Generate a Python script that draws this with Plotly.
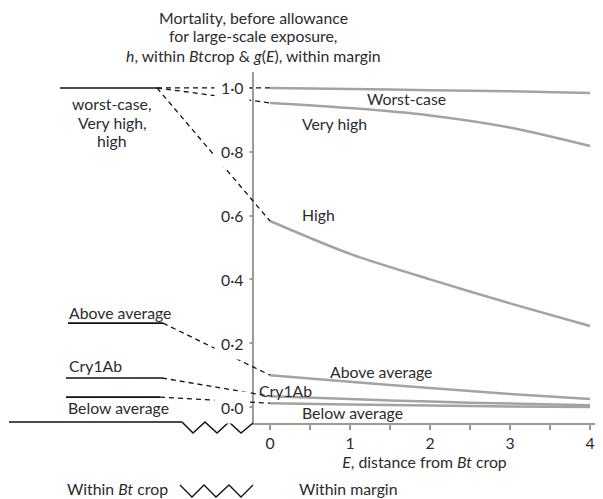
import plotly.graph_objects as go

# ---------------- data ----------------
E = [0, 1, 2, 3, 4]
worst_case = [1.000, 0.997, 0.993, 0.990, 0.984]
very_high = [0.953, 0.937, 0.914, 0.876, 0.818]
high = [0.583, 0.480, 0.400, 0.325, 0.254]
above_average = [0.100, 0.079, 0.060, 0.041, 0.025]
cry1ab = [0.034, 0.025, 0.017, 0.011, 0.006]
below_average = [0.012, 0.008, 0.005, 0.002, 0.000]

# mortality within Bt crop (h)
h_top = 1.0          # worst-case, very high, high
h_above = 0.263
h_cry1ab = 0.091
h_below = 0.031

y_ticks = [0.0, 0.2, 0.4, 0.6, 0.8, 1.0]
y_tick_text = ["0·0", "0·2", "0·4", "0·6", "0·8", "1·0"]
x_ticks = [0, 0.5, 1, 1.5, 2, 2.5, 3, 3.5, 4]
x_tick_text = ["0", "", "1", "", "2", "", "3", "", "4"]

# ---------------- geometry (screen pixels, page has an 8px body margin) ----------------
OFF = 8
W, H = 603 - OFF, 499 - OFF
SCR_TOP, SCR_BOT = 72, 423          # plot area top / bottom on screen
AX_LEFT, AX_RIGHT = 254, 595        # axis extent on screen
T = SCR_TOP - OFF
B = H - (SCR_BOT - OFF)
X_RANGE = [-0.2, 4.0625]
Y_RANGE = [-0.05, 1.05]

def e2px(e):
    return AX_LEFT + (e - X_RANGE[0]) / (X_RANGE[1] - X_RANGE[0]) * (AX_RIGHT - AX_LEFT)

def sx(px):
    return (px - OFF) / W

def sy(py):
    return (SCR_BOT - py) / (SCR_BOT - SCR_TOP)

FONT = "Lato"
FS = 15.8
TXT = "#2b2b2b"
CURVE = "#a3a3a3"
AXC = "#9a9a9a"

def tfont(size=FS):
    return dict(family=FONT, size=size, color=TXT)

fig = go.Figure()

# right panel curves g(E)
for ys in [worst_case, very_high, high, above_average, cry1ab, below_average]:
    fig.add_trace(go.Scatter(x=E, y=ys, mode="lines",
                             line=dict(color=CURVE, width=2.5, shape="spline", smoothing=0.8),
                             showlegend=False, hoverinfo="skip",
                             xaxis="x", yaxis="y"))

# left panel: h lines within Bt crop (x2 = screen-pixel scale)
left_lines = [
    (60, 157, h_top),
    (68, 163, h_above),
    (66, 162, h_cry1ab),
    (66, 160, h_below),
]
for x0, x1, hv in left_lines:
    fig.add_trace(go.Scatter(x=[x0, x1], y=[hv, hv], mode="lines",
                             line=dict(color="#111111", width=1.6),
                             showlegend=False, hoverinfo="skip",
                             xaxis="x2", yaxis="y"))

# dashed connectors h -> g(0)
x0px = e2px(E[0])
connectors = [
    (157, h_top, worst_case[0]),
    (157, h_top, very_high[0]),
    (157, h_top, high[0]),
    (163, h_above, above_average[0]),
    (162, h_cry1ab, cry1ab[0]),
    (160, h_below, below_average[0]),
]
for xs, hv, gv in connectors:
    fig.add_trace(go.Scatter(x=[xs, x0px], y=[hv, gv], mode="lines",
                             line=dict(color="#111111", width=1.3, dash="5px,4px"),
                             showlegend=False, hoverinfo="skip",
                             xaxis="x2", yaxis="y"))

shapes = []
# baseline of left panel + broken-axis zigzag
base_y = 422
shapes.append(dict(type="line", xref="paper", yref="paper",
                   x0=sx(9), x1=sx(182), y0=sy(base_y), y1=sy(base_y),
                   line=dict(color="#111111", width=1.5)))
zz_x = [182, 193, 205, 217, 229, 241, 253]
zz_y = [422, 433, 422, 433, 422, 433, 423]
path = "M " + " L ".join(f"{sx(a):.5f},{sy(b):.5f}" for a, b in zip(zz_x, zz_y))
shapes.append(dict(type="path", xref="paper", yref="paper", path=path,
                   line=dict(color="#111111", width=1.5)))
# legend zigzag
lz_x = [180, 192, 204, 216, 229, 241, 253]
lz_y = [485, 497, 485, 497, 485, 497, 485]
path2 = "M " + " L ".join(f"{sx(a):.5f},{sy(b):.5f}" for a, b in zip(lz_x, lz_y))
shapes.append(dict(type="path", xref="paper", yref="paper", path=path2,
                   line=dict(color="#111111", width=1.3)))

ann = []
# y tick labels with white background (interrupt dashed lines)
for v, t in zip(y_ticks, y_tick_text):
    ann.append(dict(x=sx(AX_LEFT), y=v, xref="paper", yref="y", text=t,
                    showarrow=False, xanchor="right", yanchor="middle",
                    xshift=-4, bgcolor="white", borderpad=6, font=tfont()))

# title (one annotation per line for exact spacing)
title_lines = ["Mortality, before allowance",
               "for large-scale exposure,",
               "<i>h</i>, within <i>Bt</i>crop &amp; <i>g</i>(<i>E</i>), within margin"]
for line, py in zip(title_lines, [17, 36, 55]):
    ann.append(dict(x=sx(253), y=sy(py), xref="paper", yref="paper", text=line,
                    showarrow=False, xanchor="center", yanchor="middle",
                    font=tfont()))

# right-panel labels
right_labels = [
    ("Worst-case", 1.19, 0.966),
    ("Very high", 0.375, 0.890),
    ("High", 0.375, 0.605),
    ("Above average", 0.725, 0.110),
    ("Cry1Ab", -0.16, 0.053),
    ("Below average", 0.375, -0.016),
]
for t, xv, yv in right_labels:
    ann.append(dict(x=xv, y=yv, xref="x", yref="y", text=t, showarrow=False,
                    xanchor="left", yanchor="middle", font=tfont()))

# left-panel labels
for line, py in zip(["worst-case,", "Very high,", "high"], [103, 122, 140]):
    ann.append(dict(x=sx(112), y=sy(py), xref="paper", yref="paper", text=line,
                    showarrow=False, xanchor="center", yanchor="middle",
                    font=tfont()))
left_labels = [
    ("Above average", 67, 0.295),
    ("Cry1Ab", 67, 0.129),
    ("Below average", 66, 0.0),
]
for t, xv, yv in left_labels:
    ann.append(dict(x=xv, y=yv, xref="x2", yref="y", text=t, showarrow=False,
                    xanchor="left", yanchor="middle", font=tfont()))

# bottom legend texts
ann.append(dict(x=sx(65), y=sy(488), xref="paper", yref="paper",
                text="Within <i>Bt</i> crop", showarrow=False,
                xanchor="left", yanchor="middle", font=tfont()))
ann.append(dict(x=sx(297), y=sy(488), xref="paper", yref="paper",
                text="Within margin", showarrow=False,
                xanchor="left", yanchor="middle", font=tfont()))

fig.update_layout(
    width=W, height=H,
    margin=dict(l=0, r=0, t=T, b=B, pad=0),
    paper_bgcolor="white", plot_bgcolor="rgba(0,0,0,0)",
    showlegend=False,
    font=tfont(),
    xaxis=dict(domain=[sx(AX_LEFT), sx(AX_RIGHT)], range=X_RANGE,
               anchor="y", showgrid=False, zeroline=False,
               showline=True, linecolor=AXC, linewidth=2,
               ticks="outside", ticklen=5, tickwidth=1.5, tickcolor=AXC,
               tickvals=x_ticks, ticktext=x_tick_text,
               tickfont=tfont(),
               title=dict(text="<i>E</i>, distance from <i>Bt</i> crop",
                          font=tfont(), standoff=5),
               automargin=False),
    xaxis2=dict(domain=[0, 1], range=[OFF, OFF + W], anchor="y", visible=False,
                showgrid=False, zeroline=False),
    yaxis=dict(range=Y_RANGE, anchor="x", showgrid=False, zeroline=False,
               showline=True, linecolor=AXC, linewidth=2,
               ticks="outside", ticklen=4, tickwidth=1.5, tickcolor=AXC,
               tickvals=y_ticks, showticklabels=False, automargin=False),
    shapes=shapes,
    annotations=ann,
)

fig.write_html("out.html")
